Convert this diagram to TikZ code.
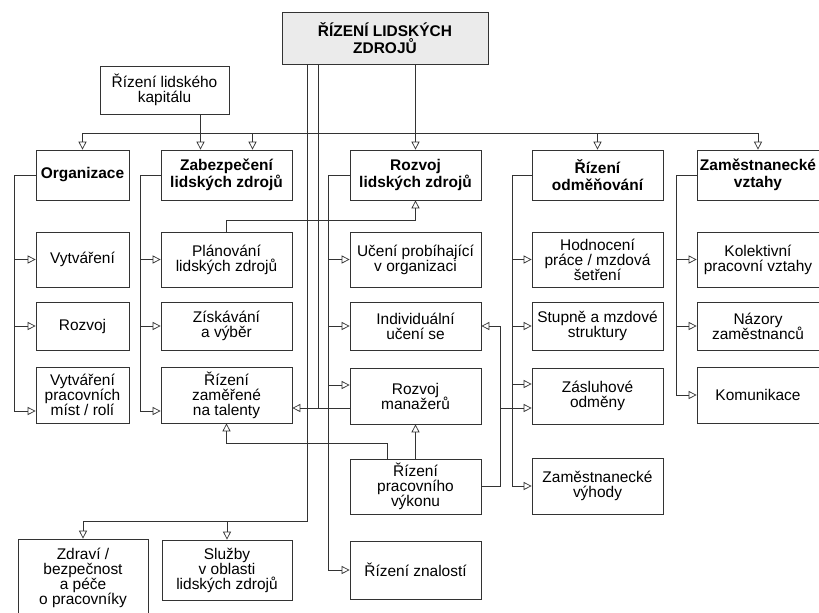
\documentclass[tikz,border=0pt]{standalone}
\usepackage{fontspec}
\setmainfont{Liberation Sans}
\usetikzlibrary{arrows.meta}

\newcommand\boxfont{\fontsize{13.2}{12.8}\selectfont\lineskiplimit=-20pt\relax}
\newcommand\headfont{\fontsize{13.2}{15}\selectfont\bfseries\lineskiplimit=-20pt\relax}

\begin{document}
\begin{tikzpicture}[x=0.03cm, y=-0.03cm,
            box/.style={draw=black!80, line width=0.6pt, align=center, inner sep=1pt, font=\boxfont},
            head/.style={box, minimum height=1.5cm, font=\headfont},
            narrow/.style={minimum width=2.79cm},
            wide/.style={minimum width=3.93cm},
            lastcol/.style={minimum width=3.66cm},
            link/.style={draw=black!80, line width=0.6pt},
            arr/.style={link, -{Triangle[open, length=2.4mm, width=2.4mm]}}]

            \clip (0,0) rectangle (819,612);

                        \node[head, fill=black!8, minimum width=6.18cm, minimum height=1.56cm] (rlzTop) at (385,38) {ŘÍZENÍ LIDSKÝCH\\ZDROJŮ};
                        \node[box, minimum width=3.87cm, minimum height=1.44cm] (kapital) at (164.5,90) {Řízení lidského\\kapitálu};

                        \node[head, narrow] (org) at (82.5,175) {Organizace};
                        \node[head, wide] (zab) at (226.5,175) {Zabezpečení\\lidských zdrojů};
                        \node[head, wide] (rlz) at (415.5,175) {Rozvoj\\lidských zdrojů};
                        \node[head, wide] (odm) at (597.5,175) {Řízení\\odměňování};
                        \node[head, lastcol] (vzt) at (758,175) {Zaměstnanecké\\vztahy};

                        \node[box, narrow, minimum height=1.65cm] (vytvareni) at (82.5,259.5) {Vytváření};
                        \node[box, wide, minimum height=1.65cm] (planovani) at (226.5,259.5) {Plánování\\lidských zdrojů};
                        \node[box, wide, minimum height=1.65cm] (uceni) at (415.5,259.5) {Učení probíhající\\v organizaci};
                        \node[box, wide, minimum height=1.65cm] (hodnoceni) at (597.5,259.5) {Hodnocení\\práce / mzdová\\šetření};
                        \node[box, lastcol, minimum height=1.65cm] (kolektivni) at (758,259.5) {Kolektivní\\pracovní vztahy};

                        \node[box, narrow, minimum height=1.44cm] (rozvoj) at (82.5,326) {Rozvoj};
                        \node[box, wide, minimum height=1.44cm] (ziskavani) at (226.5,326) {Získávání\\a výběr};
                        \node[box, wide, minimum height=1.44cm] (indiv) at (415.5,326) {Individuální\\učení se};
                        \node[box, wide, minimum height=1.44cm] (stupne) at (597.5,326) {Stupně a mzdové\\struktury};
                        \node[box, lastcol, minimum height=1.44cm] (nazory) at (758,326) {Názory\\zaměstnanců};

                        \node[box, narrow, minimum height=1.68cm] (mista) at (82.5,395) {Vytváření\\pracovních\\míst / rolí};
                        \node[box, wide, minimum height=1.68cm] (talent) at (226.5,395) {Řízení\\zaměřené\\na talenty};
                        \node[box, wide, minimum height=1.68cm] (manazeri) at (415.5,396) {Rozvoj\\manažerů};
                        \node[box, wide, minimum height=1.68cm] (zasluhy) at (597.5,396) {Zásluhové\\odměny};
                        \node[box, lastcol, minimum height=1.68cm] (komunikace) at (758,395) {Komunikace};

                        \node[box, wide, minimum height=1.65cm] (vykon) at (415.5,486.5) {Řízení\\pracovního\\výkonu};
                        \node[box, wide, minimum height=1.68cm] (vyhody) at (597.5,486) {Zaměstnanecké\\výhody};

                        \node[box, minimum width=3.9cm, minimum height=2.34cm] (zdravi) at (83,578) {Zdraví /\\bezpečnost\\a péče\\o pracovníky};
                        \node[box, minimum width=3.9cm, minimum height=1.8cm] (sluzby) at (227,570) {Služby\\v oblasti\\lidských zdrojů};
                        \node[box, wide, minimum height=1.74cm] (znalosti) at (415.5,570) {Řízení znalostí};

                        \coordinate (bus) at (0,133);
                        \coordinate (kapIn) at ([xshift=-0.78cm]zab.north);
                        \coordinate (zabIn) at ([xshift=0.78cm]zab.north);
                        \draw[arr] (rlz.north |- rlzTop.south) -- (rlz.north);
                        \draw[link] (bus -| org.north) -- (bus -| vzt.north);
                        \draw[arr] (bus -| org.north) -- (org.north);
                        \draw[arr] (zabIn |- bus) -- (zabIn);
                        \draw[arr] (bus -| odm.north) -- (odm.north);
                        \draw[arr] (bus -| vzt.north) -- (vzt.north);
                        \draw[arr] (kapIn |- kapital.south) -- (kapIn);

                        \draw[arr] (org.west) -- ++(-21,0) |- (vytvareni.west);
                        \draw[arr] (org.west) -- ++(-21,0) |- (rozvoj.west);
                        \draw[arr] (org.west) -- ++(-21,0) |- ([yshift=-0.48cm]mista.west);

                        \draw[arr] (zab.west) -- ++(-20,0) |- (planovani.west);
                        \draw[arr] (zab.west) -- ++(-20,0) |- (ziskavani.west);
                        \draw[arr] (zab.west) -- ++(-20,0) |- ([yshift=-0.48cm]talent.west);

                        \draw[arr] (rlz.west) -- ++(-21,0) |- (uceni.west);
                        \draw[arr] (rlz.west) -- ++(-21,0) |- (indiv.west);
                        \draw[arr] (rlz.west) -- ++(-21,0) |- ([yshift=0.33cm]manazeri.west);
                        \draw[arr] (rlz.west) -- ++(-21,0) |- (znalosti.west);

                        \draw[arr] (odm.west) -- ++(-19,0) |- (hodnoceni.west);
                        \draw[arr] (odm.west) -- ++(-19,0) |- (stupne.west);
                        \draw[arr] (odm.west) -- ++(-19,0) |- ([yshift=0.36cm]zasluhy.west);
                        \draw[arr] (odm.west) -- ++(-19,0) |- (vyhody.west);

                        \draw[arr] (vzt.west) -- ++(-20,0) |- (kolektivni.west);
                        \draw[arr] (vzt.west) -- ++(-20,0) |- (nazory.west);
                        \draw[arr] (vzt.west) -- ++(-20,0) |- (komunikace.west);

                        \draw[arr] (planovani.north) -- ++(0,-11) -| (rlz.south);

                        \coordinate (outA) at ([xshift=-2.34cm]rlzTop.south);
                        \coordinate (outB) at ([xshift=-2.01cm]rlzTop.south);
                        \coordinate (manL) at ([yshift=-0.36cm]manazeri.west);
                        \draw[arr] (outA) -- ++(0,457) -| (zdravi.north);
                        \draw[arr] (outA) -- ++(0,457) -| (sluzby.north);
                        \draw[link] (outB) |- (manL);
                        \draw[arr] (manL) -- (manL -| talent.east);

                        \coordinate (vykL) at ([xshift=-0.83cm]vykon.north);
                        \coordinate (zasIn) at ([yshift=-0.36cm]zasluhy.west);
                        \draw[arr] (vykon.north) -- (manazeri.south);
                        \draw[arr] (vykL) -- ++(0,-15) -| (talent.south);
                        \draw[arr] (vykon.east) -- ++(19,0) |- (indiv.east);
                        \draw[arr] (vykon.east) -- ++(19,0) |- (zasIn);
                    \end{tikzpicture}
\end{document}
